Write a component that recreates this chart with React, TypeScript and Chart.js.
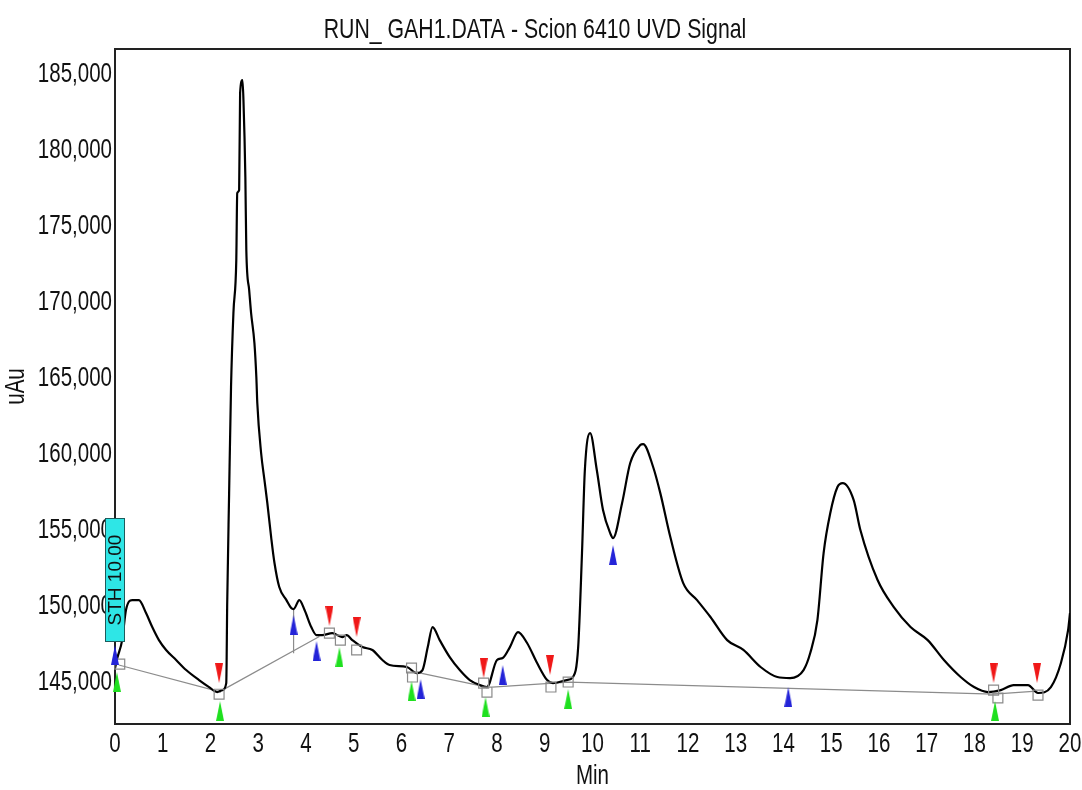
import { useEffect, useRef } from 'react';
import { Chart, registerables } from 'chart.js';

Chart.register(...registerables);

// ---- Chart text ----
const TITLE = 'RUN_ GAH1.DATA - Scion 6410 UVD Signal';
const X_TITLE = 'Min';
const Y_TITLE = 'uAu';
const EVENT_LABEL = 'STH 10.00';
const EVENT_TIME = 0;

// ---- Axes ----
const X_MIN = 0;
const X_MAX = 20;
const Y_MIN = 142240;
const Y_MAX = 186650;
const yTicks = [145000, 150000, 155000, 160000, 165000, 170000, 175000, 180000, 185000];

// ---- Detector trace (time in min, signal in uAu) ----
const traceTime = [
  0.0, 0.05, 0.15, 0.23, 0.36, 0.5, 0.65, 0.78, 0.92, 1.07, 1.28, 1.49, 1.76, 1.97, 2.14, 2.25,
  2.33, 2.35, 2.39, 2.43, 2.48, 2.54, 2.56, 2.6, 2.62, 2.67, 2.69, 2.73, 2.75, 2.81, 2.85, 2.92,
  2.96, 2.98, 3.06, 3.13, 3.19, 3.27, 3.34, 3.44, 3.59, 3.69, 3.74, 3.86, 3.97, 4.11, 4.22, 4.34,
  4.55, 4.76, 4.85, 4.97, 5.18, 5.39, 5.6, 5.75, 6.11, 6.32, 6.44, 6.55, 6.65, 6.8, 7.01, 7.22,
  7.43, 7.64, 7.79, 8.0, 8.12, 8.27, 8.44, 8.63, 8.84, 9.05, 9.17, 9.46, 9.59, 9.7, 9.78, 9.84,
  9.95, 10.09, 10.22, 10.37, 10.43, 10.62, 10.79, 11.0, 11.06, 11.27, 11.42, 11.63, 11.9, 12.19,
  12.47, 12.82, 13.16, 13.52, 13.87, 14.14, 14.42, 14.56, 14.71, 14.84, 14.98, 15.13, 15.24,
  15.47, 15.61, 15.97, 16.31, 16.66, 17.02, 17.36, 17.71, 17.99, 18.28, 18.55, 18.82, 19.12,
  19.33, 19.6, 19.81, 19.96, 20.0,
];
const traceSignal = [
  145900, 146600, 147760, 149740, 150390, 150390, 149540, 148620, 147760, 147110, 146450, 145790,
  145130, 144670, 144340, 144470, 144930, 150200, 157430, 164410, 169280, 172760, 177170, 177370,
  183750, 184600, 183290, 178220, 173420, 170790, 169280, 167300, 165070, 163360, 160070, 158290,
  156780, 154540, 152830, 151250, 150390, 149870, 149800, 150390, 149740, 148620, 148090, 148090,
  148220, 147960, 148090, 147760, 147300, 147110, 146450, 146120, 145990, 145590, 145790, 147300,
  148620, 147760, 146640, 145790, 145130, 144800, 144670, 146450, 146580, 147300, 148290, 147570,
  146250, 145130, 144930, 145130, 145330, 147300, 153490, 158950, 161380, 158950, 156320, 154800,
  154470, 156780, 159410, 160590, 160660, 159150, 157430, 154540, 151510, 150390, 149280, 147760,
  147110, 145990, 145330, 145260, 145790, 146910, 149080, 153490, 156120, 157830, 158090, 156970,
  155000, 151710, 149930, 148620, 147760, 146450, 145330, 144670, 144340, 144470, 144800, 144800,
  144280, 144670, 146250, 148420, 149540,
];

// ---- Integration baselines (null separates segments) ----
const baselineTime = [0.08, 2.22, null, 2.25, 4.28, null, 6.4, 7.79, null, 7.9, 9.5, 18.4, 19.3];
const baselineSignal = [146120, 144340, null, 144470, 148000, null, 145590, 144670, null, 144670, 145000, 144200, 144400];

// ---- Perpendicular drop lines ----
const dropTime = [3.74, 3.74, null, 10.43, 10.43];
const dropSignal = [149800, 146900, null, 154470, 144950];

// ---- Peak event markers ----
const peakStartTime = [0.04, 2.2, 4.7, 6.21, 7.76, 9.49, 18.43];
const peakStartSignal = [145000, 143090, 146640, 144410, 143360, 143880, 143090];
const peakEndTime = [2.18, 4.49, 5.06, 7.72, 9.11, 18.4, 19.31];
const peakEndSignal = [145590, 149340, 148620, 145920, 146120, 145590, 145590];
const valleyTime = [0.0, 3.74, 4.22, 6.4, 8.12, 10.43, 14.1];
const valleySignal = [146780, 148750, 147040, 144540, 145460, 153360, 144010];
const boundaryTime = [0.1, 2.18, 4.49, 4.72, 5.06, 6.21, 6.23, 7.72, 7.79, 9.13, 9.49, 18.4, 18.49, 19.33];
const boundarySignal = [146180, 144200, 148220, 147760, 147110, 145920, 145330, 144930, 144340, 144670, 145000, 144470, 143950, 144140];

const zipPoints = (xs: (number | null)[], ys: (number | null)[]) =>
  xs.map((x, i) => ({ x: x === null ? NaN : x, y: ys[i] }));

const FONT_FAMILY = '"Liberation Sans", Arial, sans-serif';
// Narrow lettering: text is drawn horizontally compressed.
const TEXT_SCALE_X = 0.76;

function triangle(color: string, down: boolean): HTMLCanvasElement {
  const w = 8;
  const h = 20;
  const c = document.createElement('canvas');
  c.width = w;
  c.height = h;
  const g = c.getContext('2d')!;
  g.fillStyle = color;
  g.beginPath();
  if (down) {
    g.moveTo(0, 0);
    g.lineTo(w, 0);
    g.lineTo(w / 2, h);
  } else {
    g.moveTo(w / 2, 0);
    g.lineTo(w, h);
    g.lineTo(0, h);
  }
  g.closePath();
  g.fill();
  return c;
}

export default function App() {
  const canvasRef = useRef<HTMLCanvasElement | null>(null);

  useEffect(() => {
    const canvas = canvasRef.current;
    if (!canvas) return;

    // Condensed text rendering for every label on this canvas.
    const ctx2d = canvas.getContext('2d')!;
    const rawFillText = ctx2d.fillText.bind(ctx2d);
    let textScaleX = TEXT_SCALE_X;
    (ctx2d as any).fillText = (text: string, x: number, y: number) => {
      if (textScaleX === 1) {
        rawFillText(text, x, y);
        return;
      }
      ctx2d.save();
      ctx2d.translate(x, y);
      ctx2d.scale(textScaleX, 1);
      rawFillText(text, 0, 0);
      ctx2d.restore();
    };

    const font = (size: number) => ({ family: FONT_FAMILY, size, weight: 'normal' as const, lineHeight: 1 });

    const framePlugin = {
      id: 'plotFrame',
      beforeDatasetsDraw(chart: any) {
        const { ctx, chartArea: a } = chart;
        ctx.save();
        ctx.strokeStyle = '#222';
        ctx.lineWidth = 2;
        ctx.strokeRect(a.left, a.top, a.right - a.left, a.bottom - a.top);
        ctx.restore();
      },
    };

    const eventPlugin = {
      id: 'eventLabel',
      afterDatasetsDraw(chart: any) {
        const { ctx, chartArea: a } = chart;
        const x = chart.scales.x.getPixelForValue(EVENT_TIME);
        const w = 20;
        const top = a.bottom - 206;
        const h = 124;
        ctx.save();
        ctx.fillStyle = '#2ee6e6';
        ctx.strokeStyle = '#1d5c5c';
        ctx.lineWidth = 1;
        ctx.fillRect(x - w / 2, top, w, h);
        ctx.strokeRect(x - w / 2 + 0.5, top + 0.5, w - 1, h - 1);
        ctx.translate(x + 1, top + h / 2);
        ctx.rotate(-Math.PI / 2);
        ctx.fillStyle = '#111';
        ctx.font = `19px ${FONT_FAMILY}`;
        ctx.textAlign = 'center';
        ctx.textBaseline = 'middle';
        textScaleX = 1;
        ctx.fillText(EVENT_LABEL, 0, 0);
        textScaleX = TEXT_SCALE_X;
        ctx.restore();
      },
    };

    const markerBase = {
      type: 'scatter' as const,
      showLine: false,
      pointRadius: 4,
      clip: false as const,
    };

    const chart = new Chart(canvas, {
      type: 'line',
      data: {
        datasets: [
          {
            ...markerBase,
            label: 'peak end',
            data: zipPoints(peakEndTime, peakEndSignal),
            pointStyle: triangle('#f01818', true),
            order: 0,
          },
          {
            ...markerBase,
            label: 'peak start',
            data: zipPoints(peakStartTime, peakStartSignal),
            pointStyle: triangle('#1fe01f', false),
            order: 0,
          },
          {
            ...markerBase,
            label: 'valley',
            data: zipPoints(valleyTime, valleySignal),
            pointStyle: triangle('#2424d8', false),
            order: 0,
          },
          {
            ...markerBase,
            label: 'boundary',
            data: zipPoints(boundaryTime, boundarySignal),
            pointStyle: 'rect',
            pointRadius: 7,
            pointBorderColor: '#8a8a8a',
            pointBackgroundColor: 'rgba(255,255,255,0)',
            pointBorderWidth: 1.2,
            order: 1,
          },
          {
            type: 'line',
            label: 'signal',
            data: zipPoints(traceTime, traceSignal),
            borderColor: '#000',
            borderWidth: 2.2,
            pointRadius: 0,
            cubicInterpolationMode: 'monotone',
            order: 2,
          },
          {
            type: 'line',
            label: 'baseline',
            data: zipPoints(baselineTime, baselineSignal),
            borderColor: '#8c8c8c',
            borderWidth: 1.2,
            pointRadius: 0,
            spanGaps: false,
            order: 3,
          },
          {
            type: 'line',
            label: 'drop',
            data: zipPoints(dropTime, dropSignal),
            borderColor: '#8c8c8c',
            borderWidth: 1.2,
            pointRadius: 0,
            spanGaps: false,
            order: 3,
          },
        ] as any,
      },
      options: {
        animation: false,
        responsive: false,
        maintainAspectRatio: false,
        parsing: false as any,
        normalized: true,
        layout: { padding: { left: 0, right: 12, top: 0, bottom: 0 } },
        plugins: {
          legend: { display: false },
          tooltip: { enabled: false },
          title: {
            display: true,
            text: TITLE,
            color: '#111',
            font: font(28),
            padding: { top: 16, bottom: 5 },
          },
        },
        scales: {
          x: {
            type: 'linear',
            min: X_MIN,
            max: X_MAX,
            ticks: {
              stepSize: 1,
              color: '#111',
              font: font(27),
              padding: 7,
              maxRotation: 0,
              autoSkip: false,
            },
            grid: { display: false, drawTicks: false },
            border: { display: false },
            title: {
              display: true,
              text: X_TITLE,
              color: '#111',
              font: font(27),
              padding: { top: 0, bottom: 0 },
            },
            afterFit: (s: any) => {
              s.height = 66;
              s.paddingLeft = 0;
              s.paddingRight = 0;
            },
          },
          y: {
            type: 'linear',
            min: Y_MIN,
            max: Y_MAX,
            afterBuildTicks: (s: any) => {
              s.ticks = yTicks.map((v) => ({ value: v }));
            },
            ticks: {
              color: '#111',
              font: font(27),
              padding: 3,
              autoSkip: false,
              callback: (v: any) => Number(v).toLocaleString('en-US'),
            },
            grid: { display: false, drawTicks: false },
            border: { display: false },
            title: {
              display: true,
              text: Y_TITLE,
              color: '#111',
              font: font(27),
              padding: { top: 3, bottom: 0 },
            },
            afterFit: (s: any) => {
              s.width = 115;
              s.paddingTop = 0;
              s.paddingBottom = 0;
            },
          },
        },
      },
      plugins: [framePlugin, eventPlugin],
    });

    return () => chart.destroy();
  }, []);

  return (
    <div style={{ position: 'fixed', left: 0, top: 0, width: 1082, height: 790, background: '#fff' }}>
      <canvas ref={canvasRef} width={1082} height={790} />
    </div>
  );
}
